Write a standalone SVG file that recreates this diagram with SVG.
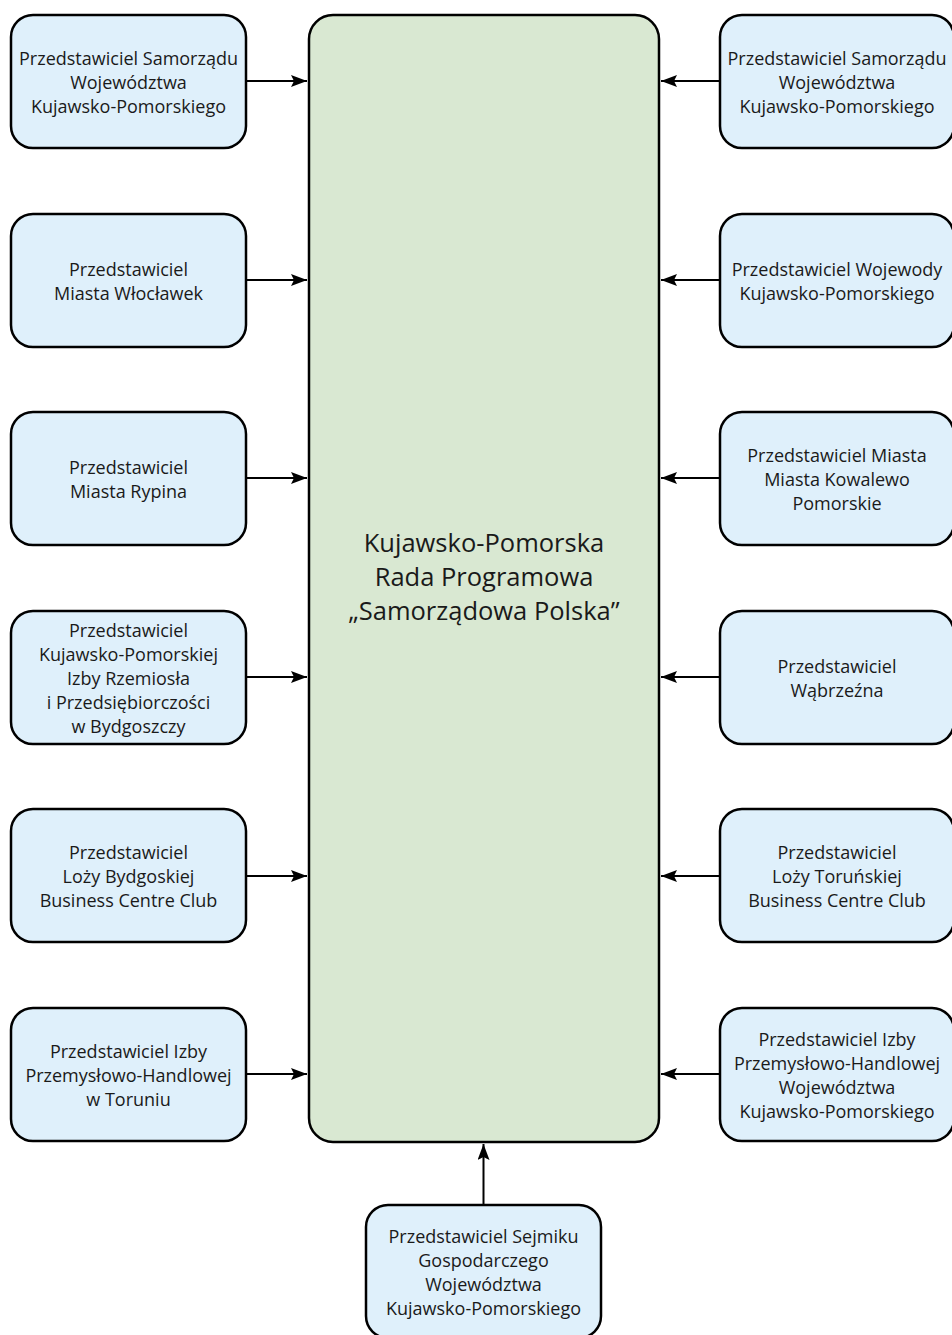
<svg xmlns="http://www.w3.org/2000/svg" width="952" height="1335" viewBox="0 0 952 1335">
<defs>
<marker id="ah" viewBox="0 0 16 12" refX="16" refY="6" markerWidth="16" markerHeight="12" markerUnits="userSpaceOnUse" orient="auto">
<path d="M0,0 L16,6 L0,12 L3,6 Z" fill="#000"/>
</marker>
<style>
.n{fill:#dff0fb;stroke:#000;stroke-width:2.5}
.c{fill:#d9e8d2;stroke:#000;stroke-width:2.5}
.t{font-family:"Open Sans","Noto Sans",sans-serif;font-size:18px;fill:#1a1a1a;text-anchor:middle}
.ct{font-family:"Open Sans","Noto Sans",sans-serif;font-size:25.5px;fill:#1a1a1a;text-anchor:middle}
.e{stroke:#000;stroke-width:2;fill:none;marker-end:url(#ah)}
</style>
</defs>
<rect width="952" height="1335" fill="#fff"/>
<g id="center">
<rect class="c" x="309" y="15" width="350" height="1127" rx="24"/>
<text class="ct" x="484" y="552">Kujawsko-Pomorska</text>
<text class="ct" x="484" y="586">Rada Programowa</text>
<text class="ct" x="484" y="620">„Samorządowa Polska”</text>
</g>
<g id="l1"><rect class="n" x="11" y="15" width="235" height="133" rx="22"/>
<text class="t" x="128.5" y="65">Przedstawiciel Samorządu</text><text class="t" x="128.5" y="89">Województwa</text><text class="t" x="128.5" y="113">Kujawsko-Pomorskiego</text></g>
<g id="l2"><rect class="n" x="11" y="214" width="235" height="133" rx="22"/>
<text class="t" x="128.5" y="276">Przedstawiciel</text><text class="t" x="128.5" y="300">Miasta Włocławek</text></g>
<g id="l3"><rect class="n" x="11" y="412" width="235" height="133" rx="22"/>
<text class="t" x="128.5" y="474">Przedstawiciel</text><text class="t" x="128.5" y="498">Miasta Rypina</text></g>
<g id="l4"><rect class="n" x="11" y="611" width="235" height="133" rx="22"/>
<text class="t" x="128.5" y="637">Przedstawiciel</text><text class="t" x="128.5" y="661">Kujawsko-Pomorskiej</text><text class="t" x="128.5" y="685">Izby Rzemiosła</text><text class="t" x="128.5" y="709">i Przedsiębiorczości</text><text class="t" x="128.5" y="733">w Bydgoszczy</text></g>
<g id="l5"><rect class="n" x="11" y="809" width="235" height="133" rx="22"/>
<text class="t" x="128.5" y="859">Przedstawiciel</text><text class="t" x="128.5" y="883">Loży Bydgoskiej</text><text class="t" x="128.5" y="907">Business Centre Club</text></g>
<g id="l6"><rect class="n" x="11" y="1008" width="235" height="133" rx="22"/>
<text class="t" x="128.5" y="1058">Przedstawiciel Izby</text><text class="t" x="128.5" y="1082">Przemysłowo-Handlowej</text><text class="t" x="128.5" y="1106">w Toruniu</text></g>
<g id="r1"><rect class="n" x="720" y="15" width="234" height="133" rx="22"/>
<text class="t" x="837" y="65">Przedstawiciel Samorządu</text><text class="t" x="837" y="89">Województwa</text><text class="t" x="837" y="113">Kujawsko-Pomorskiego</text></g>
<g id="r2"><rect class="n" x="720" y="214" width="234" height="133" rx="22"/>
<text class="t" x="837" y="276">Przedstawiciel Wojewody</text><text class="t" x="837" y="300">Kujawsko-Pomorskiego</text></g>
<g id="r3"><rect class="n" x="720" y="412" width="234" height="133" rx="22"/>
<text class="t" x="837" y="462">Przedstawiciel Miasta</text><text class="t" x="837" y="486">Miasta Kowalewo</text><text class="t" x="837" y="510">Pomorskie</text></g>
<g id="r4"><rect class="n" x="720" y="611" width="234" height="133" rx="22"/>
<text class="t" x="837" y="673">Przedstawiciel</text><text class="t" x="837" y="697">Wąbrzeźna</text></g>
<g id="r5"><rect class="n" x="720" y="809" width="234" height="133" rx="22"/>
<text class="t" x="837" y="859">Przedstawiciel</text><text class="t" x="837" y="883">Loży Toruńskiej</text><text class="t" x="837" y="907">Business Centre Club</text></g>
<g id="r6"><rect class="n" x="720" y="1008" width="234" height="133" rx="22"/>
<text class="t" x="837" y="1046">Przedstawiciel Izby</text><text class="t" x="837" y="1070">Przemysłowo-Handlowej</text><text class="t" x="837" y="1094">Województwa</text><text class="t" x="837" y="1118">Kujawsko-Pomorskiego</text></g>
<g id="b1"><rect class="n" x="366" y="1205" width="235" height="133" rx="22"/>
<text class="t" x="483.5" y="1243">Przedstawiciel Sejmiku</text><text class="t" x="483.5" y="1267">Gospodarczego</text><text class="t" x="483.5" y="1291">Województwa</text><text class="t" x="483.5" y="1315">Kujawsko-Pomorskiego</text></g>
<g id="connectors">
<line class="e" x1="247" y1="81" x2="307" y2="81"/>
<line class="e" x1="247" y1="280" x2="307" y2="280"/>
<line class="e" x1="247" y1="478" x2="307" y2="478"/>
<line class="e" x1="247" y1="677" x2="307" y2="677"/>
<line class="e" x1="247" y1="876" x2="307" y2="876"/>
<line class="e" x1="247" y1="1074" x2="307" y2="1074"/>
<line class="e" x1="719" y1="81" x2="661" y2="81"/>
<line class="e" x1="719" y1="280" x2="661" y2="280"/>
<line class="e" x1="719" y1="478" x2="661" y2="478"/>
<line class="e" x1="719" y1="677" x2="661" y2="677"/>
<line class="e" x1="719" y1="876" x2="661" y2="876"/>
<line class="e" x1="719" y1="1074" x2="661" y2="1074"/>
<line class="e" x1="483.5" y1="1204" x2="483.5" y2="1144"/>
</g>
</svg>
